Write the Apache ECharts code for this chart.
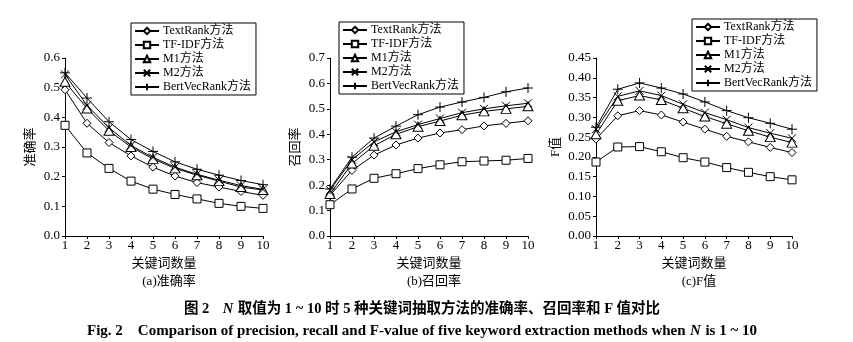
<!DOCTYPE html>
<html><head><meta charset="utf-8">
<script src="https://cdn.jsdelivr.net/npm/echarts@6/dist/echarts.min.js"></script>
<style>html,body{margin:0;padding:0;background:#fff}#c{width:853px;height:342px}</style>
</head><body><div id="c"></div>
<script>
const xs = [1,2,3,4,5,6,7,8,9,10];
const names = ['TextRank方法','TF-IDF方法','M1方法','M2方法','BertVecRank方法'];
// precision
const pTextRank = [0.493,0.38,0.315,0.27,0.232,0.202,0.18,0.165,0.15,0.137];
const pTFIDF    = [0.373,0.28,0.228,0.185,0.158,0.14,0.125,0.11,0.1,0.093];
const pM1       = [0.52,0.43,0.355,0.30,0.26,0.228,0.205,0.185,0.165,0.155];
const pM2       = [0.545,0.44,0.365,0.305,0.265,0.232,0.208,0.188,0.17,0.157];
const pBert     = [0.55,0.465,0.385,0.325,0.285,0.25,0.225,0.205,0.187,0.173];
// recall
const rTextRank = [0.16,0.258,0.318,0.358,0.385,0.405,0.418,0.433,0.443,0.453];
const rTFIDF    = [0.123,0.185,0.227,0.245,0.265,0.28,0.292,0.295,0.298,0.305];
const rM1       = [0.165,0.285,0.355,0.40,0.43,0.452,0.475,0.49,0.5,0.51];
const rM2       = [0.18,0.30,0.37,0.41,0.438,0.462,0.485,0.5,0.512,0.522];
const rBert     = [0.185,0.31,0.385,0.432,0.477,0.507,0.527,0.545,0.567,0.582];
// F value
const fTextRank = [0.245,0.304,0.317,0.306,0.288,0.27,0.252,0.238,0.224,0.211];
const fTFIDF    = [0.187,0.225,0.226,0.213,0.198,0.187,0.173,0.161,0.15,0.142];
const fM1       = [0.257,0.342,0.355,0.344,0.323,0.302,0.284,0.266,0.25,0.236];
const fM2       = [0.27,0.353,0.367,0.355,0.333,0.312,0.294,0.274,0.26,0.247];
const fBert     = [0.275,0.371,0.387,0.374,0.359,0.339,0.317,0.299,0.285,0.27];

const yMax = [0.6, 0.7, 0.45];
const yStep = [0.1, 0.1, 0.05];
const yDigits = [1, 1, 2];
const yNames = ['准确率','召回率','F值'];
const subTitles = ['(a)准确率','(b)召回率','(c)F值'];
const xName = '关键词数量';
const caption1 = '图 2';
const caption1b = 'N';
const caption1c = '取值为 1 ~ 10 时 5 种关键词抽取方法的准确率、召回率和 F 值对比';
const caption2 = 'Fig. 2    Comparison of precision, recall and F-value of five keyword extraction methods when';
const caption2b = 'N';
const caption2c = 'is 1 ~ 10';

const panels = [
  [pTextRank,pTFIDF,pM1,pM2,pBert],
  [rTextRank,rTFIDF,rM1,rM2,rBert],
  [fTextRank,fTFIDF,fM1,fM2,fBert]
];

const FONT = '"Liberation Serif","Times New Roman","Noto Sans CJK SC",serif';
const symbols = [
  'path://M5,0L10,5L5,10L0,5Z',
  'rect',
  'path://M5,0L10,9L0,9Z',
  'path://M0,0L10,10M10,0L0,10',
  'path://M5,0L5,10M0,5L10,5'
];
const symSizes = [8, 8, [10,9], 8, 10];

const gridsPos = [
  {left:65, top:58, width:198, height:178},
  {left:330, top:58, width:198, height:178},
  {left:596, top:58, width:196, height:178}
];
const legendPos = [
  {left:131, top:23},
  {left:339, top:22},
  {left:692, top:19}
];
const yNameGaps = [28, 28, 34];

const option = {
  animation:false,
  backgroundColor:'#fff',
  textStyle:{fontFamily:FONT, color:'#000'},
  grid:[], xAxis:[], yAxis:[], series:[], legend:[], title:[]
};

panels.forEach((pdata, i) => {
  option.grid.push(Object.assign({containLabel:false}, gridsPos[i]));
  option.xAxis.push({
    type:'value', gridIndex:i, min:1, max:10, interval:1,
    name:xName, nameLocation:'middle', nameGap:18,
    nameTextStyle:{fontFamily:FONT, fontSize:13, color:'#000'},
    axisLine:{show:true, lineStyle:{color:'#000', width:1}},
    axisTick:{show:true, length:3, inside:false, lineStyle:{color:'#000'}},
    axisLabel:{fontFamily:FONT, fontSize:13, color:'#000', margin:3},
    splitLine:{show:false}
  });
  option.yAxis.push({
    type:'value', gridIndex:i, min:0, max:yMax[i], interval:yStep[i],
    name:yNames[i], nameLocation:'middle', nameGap:yNameGaps[i], nameRotate:90,
    nameTextStyle:{fontFamily:FONT, fontSize:13, color:'#000'},
    axisLine:{show:true, lineStyle:{color:'#000', width:1}},
    axisTick:{show:true, length:3, lineStyle:{color:'#000'}},
    axisLabel:{fontFamily:FONT, fontSize:13, color:'#000', margin:5,
      formatter:(v)=>v.toFixed(yDigits[i])},
    splitLine:{show:false}
  });
  pdata.forEach((arr, k) => {
    option.series.push({
      type:'line', name:names[k], xAxisIndex:i, yAxisIndex:i,
      data: xs.map((x,j)=>[x, arr[j]]),
      symbol:symbols[k], symbolSize:symSizes[k], showAllSymbol:true,
      lineStyle:{color:'#000', width:1},
      itemStyle:{color:'#fff', borderColor:'#000', borderWidth:1},
      z: 2 + k
    });
  });
  option.legend.push({
    data: names.map(n=>({name:n})),
    orient:'vertical', left:legendPos[i].left, top:legendPos[i].top,
    borderColor:'#000', borderWidth:1, padding:[2,5,2,3],
    itemGap:2, itemWidth:24, itemHeight:8,
    textStyle:{fontFamily:FONT, fontSize:12, color:'#000', padding:[0,0,0,-1]},
    backgroundColor:'#fff'
  });
  option.title.push({
    text:subTitles[i],
    left: gridsPos[i].left + gridsPos[i].width/2, top:270, textAlign:'center',
    textStyle:{fontFamily:FONT, fontSize:13, fontWeight:'normal', color:'#000'}
  });
});

option.title.push({
  text:'{b|' + caption1 + '}   {i|' + caption1b + '} {b|' + caption1c + '}',
  left:417, textAlign:'center', top:295,
  textStyle:{rich:{
    b:{fontFamily:FONT, fontSize:14.5, fontWeight:'bold', color:'#000'},
    i:{fontFamily:FONT, fontSize:14.5, fontWeight:'bold', fontStyle:'italic', color:'#000'}
  }}
});
option.title.push({
  text:'{b|' + caption2 + '} {i|' + caption2b + '} {b|' + caption2c + '}',
  left:417, textAlign:'center', top:317,
  textStyle:{rich:{
    b:{fontFamily:FONT, fontSize:15, fontWeight:'bold', color:'#000'},
    i:{fontFamily:FONT, fontSize:15, fontWeight:'bold', fontStyle:'italic', color:'#000'}
  }}
});

const chart = echarts.init(document.getElementById('c'), null, {renderer:'canvas'});
chart.setOption(option);
</script></body></html>
